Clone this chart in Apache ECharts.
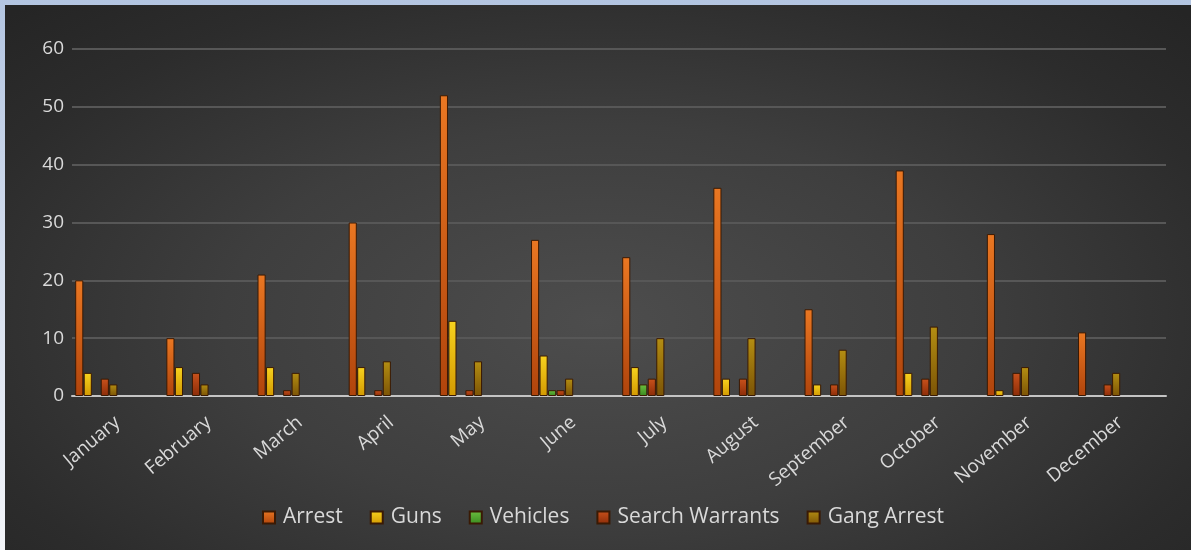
<!DOCTYPE html>
<html>
<head>
<meta charset="utf-8">
<script src="https://cdn.jsdelivr.net/npm/echarts@6/dist/echarts.min.js"></script>
<style>
  html, body { margin: 0; padding: 0; }
  body {
    width: 1191px; height: 550px; overflow: hidden;
    background: linear-gradient(to bottom, #b3c5e1 0%, #d6dfee 50%, #f3f5f9 100%);
    position: relative;
  }
  #chart {
    position: absolute; left: 5px; top: 5px; width: 1186px; height: 545px;
    background: radial-gradient(ellipse 70% 80% at 50% 58%, #4d4d4d 0%, #3e3e3e 45%, #2c2c2c 80%, #252525 100%);
  }
</style>
</head>
<body>
<div id="chart"></div>
<script>
// Monthly enforcement activity
const months = ['January', 'February', 'March', 'April', 'May', 'June',
                'July', 'August', 'September', 'October', 'November', 'December'];
const arrest         = [20, 10, 21, 30, 52, 27, 24, 36, 15, 39, 28, 11];
const guns           = [4, 5, 5, 5, 13, 7, 5, 3, 2, 4, 1, 0];
const vehicles       = [0, 0, 0, 0, 0, 1, 2, 0, 0, 0, 0, 0];
const searchWarrants = [3, 4, 1, 1, 1, 1, 3, 3, 2, 3, 4, 2];
const gangArrest     = [2, 2, 4, 6, 6, 3, 10, 10, 8, 12, 5, 4];
const yTicks = { min: 0, max: 60, step: 10 };

function grad(top, bottom) {
  return new echarts.graphic.LinearGradient(0, 0, 0, 1, [
    { offset: 0, color: top }, { offset: 1, color: bottom }
  ]);
}

function barSeries(name, data, top, bottom) {
  return {
    name: name, type: 'bar',
    // zero counts leave an empty slot rather than a flat outline
    data: data.map(v => (v === 0 ? null : v)),
    barGap: '5%', barCategoryGap: '7%',
    itemStyle: { color: grad(top, bottom), borderColor: '#3a1a04', borderWidth: 1 },
    emphasis: { disabled: true }
  };
}

const series = [
  barSeries('Arrest', arrest, '#ea7722', '#b0440c'),
  barSeries('Guns', guns, '#f7d21e', '#d39a02'),
  barSeries('Vehicles', vehicles, '#6cc040', '#3a8a20'),
  barSeries('Search Warrants', searchWarrants, '#c9521c', '#8c2c08'),
  barSeries('Gang Arrest', gangArrest, '#b48e12', '#7c5406')
];
// reserved slots in each month group (kept empty)
for (let i = 0; i < 5; i++) {
  series.push({ type: 'bar', data: [], barGap: '5%', barCategoryGap: '7%' });
}

const chart = echarts.init(document.getElementById('chart'), null, { renderer: 'canvas' });
chart.setOption({
  backgroundColor: 'transparent',
  animation: false,
  textStyle: { fontFamily: 'Open Sans' },
  grid: { left: 67, right: 25, top: 44, bottom: 154, containLabel: false },
  legend: {
    data: ['Arrest', 'Guns', 'Vehicles', 'Search Warrants', 'Gang Arrest'],
    top: 497, left: 252,
    icon: 'rect', itemWidth: 12, itemHeight: 12, itemGap: 27,
    textStyle: { color: '#d9d9d9', fontSize: 21, fontFamily: 'Open Sans', padding: [0, 0, 0, 3] }
  },
  xAxis: {
    type: 'category', data: months,
    axisLine: { lineStyle: { color: '#c4c4c4', width: 2 } },
    axisTick: { show: false },
    axisLabel: { rotate: 40, interval: 0, color: '#d9d9d9', fontSize: 19, margin: 24 }
  },
  yAxis: {
    type: 'value', min: yTicks.min, max: yTicks.max, interval: yTicks.step,
    axisLine: { show: false }, axisTick: { show: false },
    axisLabel: { color: '#d9d9d9', fontSize: 19, margin: 8 },
    splitLine: { lineStyle: { color: '#575757', width: 2 } }
  },
  series: series
});
</script>
</body>
</html>
